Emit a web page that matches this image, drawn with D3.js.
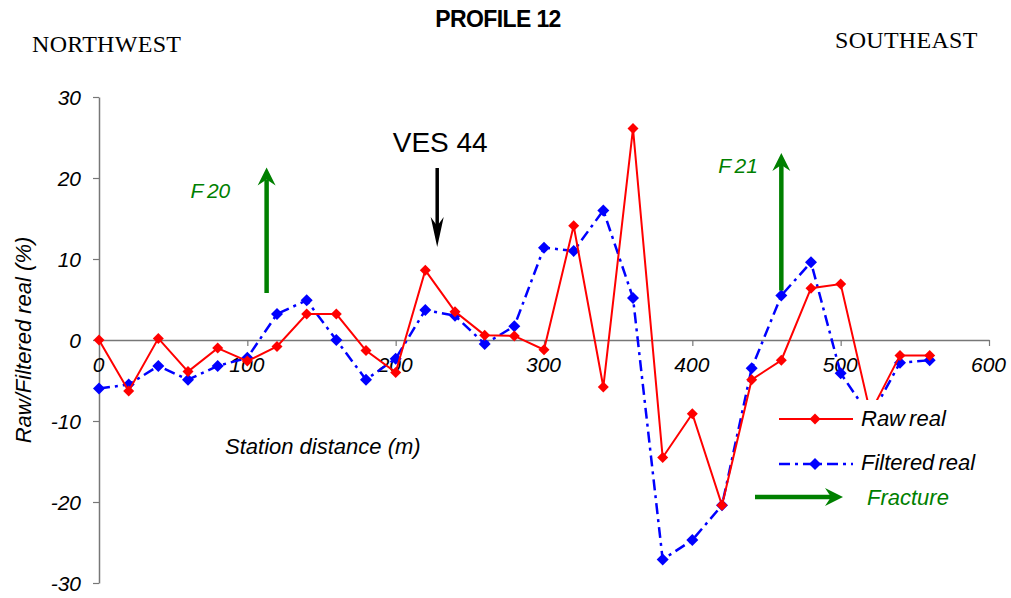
<!DOCTYPE html>
<html>
<head>
<meta charset="utf-8">
<script src="https://cdn.jsdelivr.net/npm/d3@7"></script>
<style>
  html, body { margin: 0; padding: 0; background: #fff; }
  svg { display: block; }
  text { font-family: "Liberation Sans", Arial, sans-serif; }
</style>
</head>
<body>
<svg id="chart" width="1011" height="598"></svg>
<script>
// Station distances along the profile (m)
const stations = [0, 20, 40, 60, 80, 100, 120, 140, 160, 180, 200, 220, 240, 260, 280,
                  300, 320, 340, 360, 380, 400, 420, 440, 460, 480, 500, 520, 540, 560];

// Raw real component (%)
const rawReal = [0, -6.3, 0.2, -3.9, -1.0, -2.6, -0.8, 3.2, 3.2, -1.3, -4.0, 8.6, 3.5, 0.6, 0.5,
                 -1.2, 14.1, -5.8, 26.1, -14.5, -9.1, -20.4, -4.9, -2.5, 6.4, 6.9, -9.0, -1.9, -1.9];

// Filtered real component (%)
const filteredReal = [-6.0, -5.5, -3.2, -4.9, -3.2, -2.2, 3.2, 4.9, 0.0, -4.9, -2.3, 3.7, 3.0, -0.5, 1.7,
                      11.4, 11.0, 16.0, 5.2, -27.1, -24.7, -20.4, -3.5, 5.5, 9.6, -4.1, -9.5, -2.8, -2.5];

const xTicks = [0, 100, 200, 300, 400, 500, 600];
const yTicks = [-30, -20, -10, 0, 10, 20, 30];

// Fracture / sounding markers: station, bottom and top of the arrow (%)
const fractureLabels = ["F 20", "F 21"];
const fractureStations = [113, 460];
const fractureFrom = [5.8, 6.1];
const fractureTo = [21.3, 23.1];
const vesLabel = "VES 44";
const vesStation = 228;

const svg = d3.select("#chart");
const x = d3.scaleLinear().domain([0, 600]).range([99, 989]);
const y = d3.scaleLinear().domain([-30, 30]).range([583, 97]);
const axisColor = "#777";

// Y axis
const yAxis = svg.append("g").attr("transform", `translate(${x(0)},0)`)
  .call(d3.axisLeft(y).tickValues(yTicks).tickSize(6).tickSizeOuter(0).tickFormat(d3.format("d")));
yAxis.select(".domain").attr("stroke", axisColor).attr("stroke-width", 1.5);
yAxis.selectAll(".tick line").attr("stroke", axisColor).attr("stroke-width", 1.2);
yAxis.selectAll(".tick text")
  .attr("x", -18).attr("dy", "0.36em")
  .style("font-size", "21px").style("font-style", "italic").attr("fill", "#000")
  .text(d => d < 0 ? "-" + Math.abs(d) : d);

// X axis along the zero line
const xAxis = svg.append("g").attr("transform", `translate(0,${y(0)})`)
  .call(d3.axisBottom(x).tickValues(xTicks).tickSize(6).tickSizeOuter(0).tickFormat(d3.format("d")));
xAxis.select(".domain").attr("stroke", axisColor).attr("stroke-width", 1.5);
xAxis.selectAll(".tick line").attr("stroke", axisColor).attr("stroke-width", 1.2);
xAxis.selectAll(".tick text")
  .attr("x", -1).attr("y", 24).attr("dy", "0.36em")
  .style("font-size", "21px").style("font-style", "italic").attr("fill", "#000");

// Series
const line = d3.line().x((d, i) => x(stations[i])).y(d => y(d));
const diamond = s => `M0,${-s}L${s},0L0,${s}L${-s},0Z`;

svg.append("path").datum(filteredReal).attr("d", line)
  .attr("fill", "none").attr("stroke", "#0000ff").attr("stroke-width", 2.5)
  .attr("stroke-dasharray", "11,5,3,5");
svg.append("g").selectAll("path").data(filteredReal).join("path")
  .attr("d", diamond(6)).attr("fill", "#0000ff")
  .attr("transform", (d, i) => `translate(${x(stations[i])},${y(d)})`);

svg.append("path").datum(rawReal).attr("d", line)
  .attr("fill", "none").attr("stroke", "#ff0000").attr("stroke-width", 2);
svg.append("g").selectAll("path").data(rawReal).join("path")
  .attr("d", diamond(5.5)).attr("fill", "#ff0000")
  .attr("transform", (d, i) => `translate(${x(stations[i])},${y(d)})`);

// Arrow helper: shaft plus notched head, pointing from (x1,y1) to (x2,y2)
function arrow(g, x1, y1, x2, y2, color, width, headLen, headHalf, notch) {
  const ang = Math.atan2(y2 - y1, x2 - x1) * 180 / Math.PI;
  const len = Math.hypot(x2 - x1, y2 - y1);
  const a = g.append("g").attr("transform", `translate(${x1},${y1}) rotate(${ang})`);
  a.append("line").attr("x1", 0).attr("y1", 0).attr("x2", len - notch).attr("y2", 0)
    .attr("stroke", color).attr("stroke-width", width);
  a.append("path")
    .attr("d", `M${len},0L${len - headLen},${-headHalf}L${len - notch},0L${len - headLen},${headHalf}Z`)
    .attr("fill", color);
}

const ann = svg.append("g");
const green = "#008000";
fractureStations.forEach((s, i) => {
  arrow(ann, x(s), y(fractureFrom[i]), x(s), y(fractureTo[i]), green, 4.5, 18, 9, 12);
});
ann.append("text").attr("x", x(fractureStations[0]) - 76).attr("y", 198)
  .style("font-size", "21px").style("font-style", "italic").attr("fill", green)
  .style("word-spacing", "-2px").text(fractureLabels[0]);
ann.append("text").attr("x", x(fractureStations[1]) - 63).attr("y", 173)
  .style("font-size", "21px").style("font-style", "italic").attr("fill", green)
  .style("word-spacing", "-2px").text(fractureLabels[1]);

arrow(ann, x(vesStation), 168, x(vesStation), 247, "#000", 3.5, 30, 6.5, 21);
ann.append("text").attr("x", x(vesStation) + 3).attr("y", 152).attr("text-anchor", "middle")
  .style("font-size", "28px").attr("fill", "#000").text(vesLabel);

// Axis titles
svg.append("text").attr("x", 225).attr("y", 454)
  .style("font-size", "22px").style("font-style", "italic").text("Station distance (m)");
svg.append("text").attr("transform", "translate(31,340) rotate(-90)").attr("text-anchor", "middle")
  .style("font-size", "22px").style("font-style", "italic").text("Raw/Filtered real (%)");

// Title and orientation labels
svg.append("text").attr("x", 498).attr("y", 27).attr("text-anchor", "middle")
  .style("font-size", "23px").style("font-weight", "bold").style("letter-spacing", "-0.6px")
  .text("PROFILE 12");
svg.append("text").attr("x", 32).attr("y", 52)
  .style("font-family", "'Liberation Serif', 'Times New Roman', serif").style("font-size", "24px")
  .style("letter-spacing", "0.3px").text("NORTHWEST");
svg.append("text").attr("x", 835).attr("y", 48)
  .style("font-family", "'Liberation Serif', 'Times New Roman', serif").style("font-size", "24px")
  .style("letter-spacing", "0.3px").text("SOUTHEAST");

// Legend with opaque background
const leg = svg.append("g");
leg.append("rect").attr("x", 770).attr("y", 400).attr("width", 220).attr("height", 118).attr("fill", "#fff");
leg.append("line").attr("x1", 779).attr("x2", 853).attr("y1", 419).attr("y2", 419)
  .attr("stroke", "#ff0000").attr("stroke-width", 2);
leg.append("path").attr("d", diamond(5.5)).attr("fill", "#ff0000").attr("transform", "translate(815,419)");
leg.append("text").attr("x", 861).attr("y", 426).style("font-size", "22px").style("font-style", "italic")
  .style("word-spacing", "-2px").text("Raw real");
leg.append("line").attr("x1", 779).attr("x2", 853).attr("y1", 464).attr("y2", 464)
  .attr("stroke", "#0000ff").attr("stroke-width", 2.5).attr("stroke-dasharray", "11,5,3,5");
leg.append("path").attr("d", diamond(6)).attr("fill", "#0000ff").attr("transform", "translate(815,464)");
leg.append("text").attr("x", 861).attr("y", 470).style("font-size", "22px").style("font-style", "italic")
  .style("word-spacing", "-2px").text("Filtered real");
arrow(leg, 755, 497, 843, 497, green, 4.5, 18, 9, 12);
leg.append("text").attr("x", 867).attr("y", 505).style("font-size", "22px").style("font-style", "italic")
  .attr("fill", green).text("Fracture");
</script>
</body>
</html>
